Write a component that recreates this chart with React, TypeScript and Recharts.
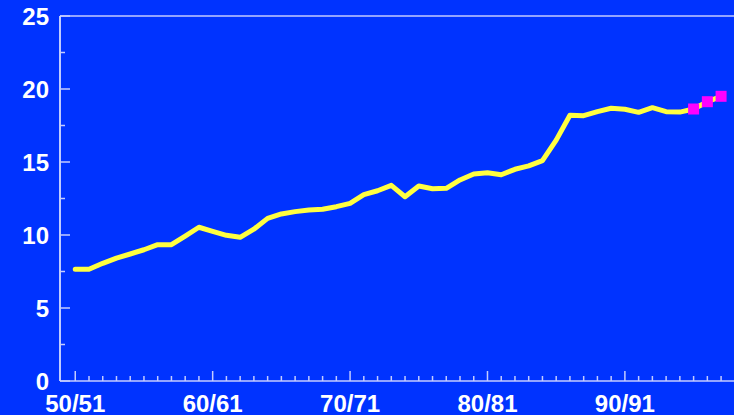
import { ComposedChart, Line, XAxis, YAxis, ReferenceLine } from "recharts";

const years = [
  1950, 1951, 1952, 1953, 1954, 1955, 1956, 1957, 1958, 1959,
  1960, 1961, 1962, 1963, 1964, 1965, 1966, 1967, 1968, 1969,
  1970, 1971, 1972, 1973, 1974, 1975, 1976, 1977, 1978, 1979,
  1980, 1981, 1982, 1983, 1984, 1985, 1986, 1987, 1988, 1989,
  1990, 1991, 1992, 1993, 1994, 1995, 1996, 1997,
];

const values = [
  7.65, 7.65, 8.06, 8.42, 8.7, 8.99, 9.34, 9.34, 9.93, 10.53,
  10.25, 9.98, 9.84, 10.4, 11.14, 11.44, 11.6, 11.71, 11.76, 11.94,
  12.17, 12.76, 13.03, 13.4, 12.62, 13.36, 13.17, 13.2, 13.77, 14.18,
  14.27, 14.13, 14.5, 14.73, 15.09, 16.5, 18.2, 18.17, 18.45, 18.68,
  18.61, 18.4, 18.72, 18.45, 18.42, 18.63, 19.13, 19.5,
];

const projYears = [1995, 1996, 1997];
const projValues = [18.63, 19.13, 19.5];

const decadeYears = [1950, 1960, 1970, 1980, 1990];
const decadeLabels = ["50/51", "60/61", "70/71", "80/81", "90/91"];

const yTicks = [0, 2.5, 5, 7.5, 10, 12.5, 15, 17.5, 20, 22.5, 25];

const data = years.map((year, i) => ({ year, value: values[i] }));
const projData = projYears.map((year, i) => ({ year, proj: projValues[i] }));

const BG = "#0033ff";
const FONT = "'Liberation Sans', Arial, sans-serif";
const TICK_COLOR = "#c4ccff";

function XTick({ x, y, payload }: any) {
  const idx = decadeYears.indexOf(payload.value);
  const major = idx >= 0;
  return (
    <g>
      <line x1={x} x2={x} y1={y} y2={y - (major ? 10 : 5)} stroke={TICK_COLOR} strokeWidth={1.5} />
      {major && (
        <text
          x={x}
          y={y + 31}
          textAnchor="middle"
          fill="#ffffff"
          fontFamily={FONT}
          fontWeight="bold"
          fontSize={24}
        >
          {decadeLabels[idx]}
        </text>
      )}
    </g>
  );
}

function YTick({ x, y, payload }: any) {
  const major = payload.value % 5 === 0;
  return (
    <g>
      <line x1={x} x2={x + (major ? 10 : 5)} y1={y} y2={y} stroke={TICK_COLOR} strokeWidth={1.5} />
      {major && (
        <text
          x={x - 11}
          y={y}
          dy="0.36em"
          textAnchor="end"
          fill="#ffffff"
          fontFamily={FONT}
          fontWeight="bold"
          fontSize={24}
        >
          {payload.value}
        </text>
      )}
    </g>
  );
}

function SquareDot({ cx, cy, index }: any) {
  if (cx == null || cy == null) return null;
  return <rect key={`sq-${index}`} x={cx - 5.5} y={cy - 5.5} width={11} height={11} fill="#ff00ff" />;
}

export default function App() {
  return (
    <div style={{ position: "fixed", left: 0, top: 0, width: 734, height: 415, background: BG }}>
      <ComposedChart
        width={734}
        height={415}
        data={data}
        margin={{ top: 16, right: 0, left: 0, bottom: 0 }}
      >
        <XAxis
          dataKey="year"
          type="number"
          domain={[1948.89, 1997.94]}
          allowDataOverflow
          ticks={years}
          interval={0}
          height={34}
          tickSize={0}
          tickMargin={0}
          tickLine={false}
          axisLine={{ stroke: TICK_COLOR, strokeWidth: 1.5 }}
          tick={<XTick />}
        />
        <YAxis
          type="number"
          domain={[0, 25]}
          ticks={yTicks}
          interval={0}
          width={60}
          tickSize={0}
          tickMargin={0}
          tickLine={false}
          axisLine={{ stroke: "#ffffff", strokeWidth: 1.5 }}
          tick={<YTick />}
        />
        <ReferenceLine y={25} stroke={TICK_COLOR} strokeWidth={1.5} />
        <Line
          dataKey="value"
          type="linear"
          stroke="#ffff40"
          strokeWidth={5}
          strokeLinejoin="round"
          strokeLinecap="round"
          dot={false}
          activeDot={false}
          isAnimationActive={false}
        />
        <Line
          data={projData}
          dataKey="proj"
          type="linear"
          stroke="none"
          dot={<SquareDot />}
          activeDot={false}
          isAnimationActive={false}
        />
      </ComposedChart>
    </div>
  );
}
